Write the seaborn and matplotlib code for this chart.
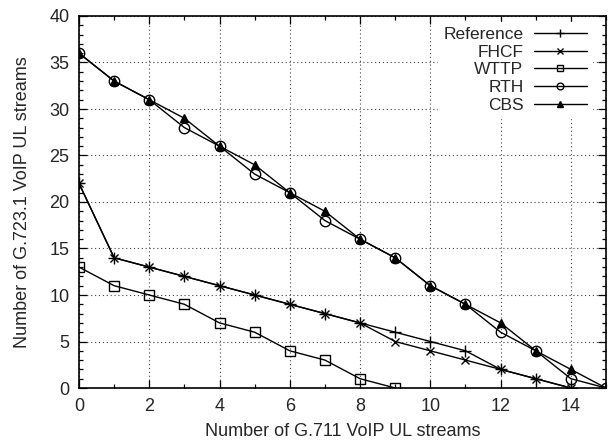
import matplotlib
matplotlib.use("Agg")
import matplotlib.pyplot as plt
import seaborn as sns
import pandas as pd
from matplotlib.ticker import MultipleLocator

ref_x = list(range(0, 15))
ref_y = [22, 14, 13, 12, 11, 10, 9, 8, 7, 6, 5, 4, 2, 1, 0]
fhcf_x = list(range(0, 15))
fhcf_y = [22, 14, 13, 12, 11, 10, 9, 8, 7, 5, 4, 3, 2, 1, 0]
wttp_x = list(range(0, 10))
wttp_y = [13, 11, 10, 9, 7, 6, 4, 3, 1, 0]
rth_x = list(range(0, 16))
rth_y = [36, 33, 31, 28, 26, 23, 21, 18, 16, 14, 11, 9, 6, 4, 1, 0]
cbs_x = list(range(0, 16))
cbs_y = [36, 33, 31, 29, 26, 24, 21, 19, 16, 14, 11, 9, 7, 4, 2, 0]

series = [
    ("Reference", ref_x, ref_y, dict(marker="+", markersize=8, mew=1.0, mfc="black")),
    ("FHCF", fhcf_x, fhcf_y, dict(marker="x", markersize=6, mew=1.0, mfc="black")),
    ("WTTP", wttp_x, wttp_y, dict(marker="s", markersize=7, mew=1.0, mfc="none")),
    ("RTH", rth_x, rth_y, dict(marker="o", markersize=7.5, mew=1.0, mfc="none")),
    ("CBS", cbs_x, cbs_y, dict(marker="^", markersize=6, mew=1.0, mfc="black")),
]

sns.set_style("white")
plt.rcParams["font.family"] = ["Liberation Sans", "DejaVu Sans"]

fig = plt.figure(figsize=(6.14, 4.4), dpi=100)
ax = fig.add_axes([79/614, 1 - 388/440, (606-79)/614, (388-16)/440])

for name, xs, ys, st in series:
    df = pd.DataFrame({"x": xs, "y": ys})
    sns.lineplot(data=df, x="x", y="y", ax=ax, color="black", linewidth=1.0,
                 label=name, mec="black", **st)

ax.set_xlim(0, 15)
ax.set_ylim(0, 40)
ax.xaxis.set_major_locator(MultipleLocator(2))
ax.xaxis.set_minor_locator(MultipleLocator(1))
ax.yaxis.set_major_locator(MultipleLocator(5))
ax.yaxis.set_minor_locator(MultipleLocator(1))
ax.tick_params(which="both", direction="in", top=True, right=True, bottom=True, left=True,
               color="black", labelsize=13)
ax.tick_params(which="major", length=6, width=0.9, pad=7)
ax.tick_params(which="minor", length=3, width=0.9)
ax.grid(True, which="major", linestyle=(0, (1, 2.5)), color="#444444", linewidth=0.8)
for s in ax.spines.values():
    s.set_color("black")
    s.set_linewidth(1.2)

ax.set_xlabel("Number of G.711 VoIP UL streams", fontsize=13, labelpad=6)
ax.set_ylabel("Number of G.723.1 VoIP UL streams", fontsize=13, labelpad=13)

leg = ax.legend(loc="upper right", bbox_to_anchor=(0.9734, 0.984), markerfirst=False,
                frameon=True, fontsize=12.5,
                handlelength=3.05, handletextpad=0.6, labelspacing=0.14,
                borderaxespad=0.0, borderpad=0.3, fancybox=False, markerscale=0.65)
leg.get_frame().set_edgecolor("white")
leg.get_frame().set_facecolor("white")
leg.get_frame().set_alpha(1)
for t in leg.get_texts():
    t.set_ha("right")
leg._legend_box.align = "right"

fig.savefig("out.png", dpi=100)
